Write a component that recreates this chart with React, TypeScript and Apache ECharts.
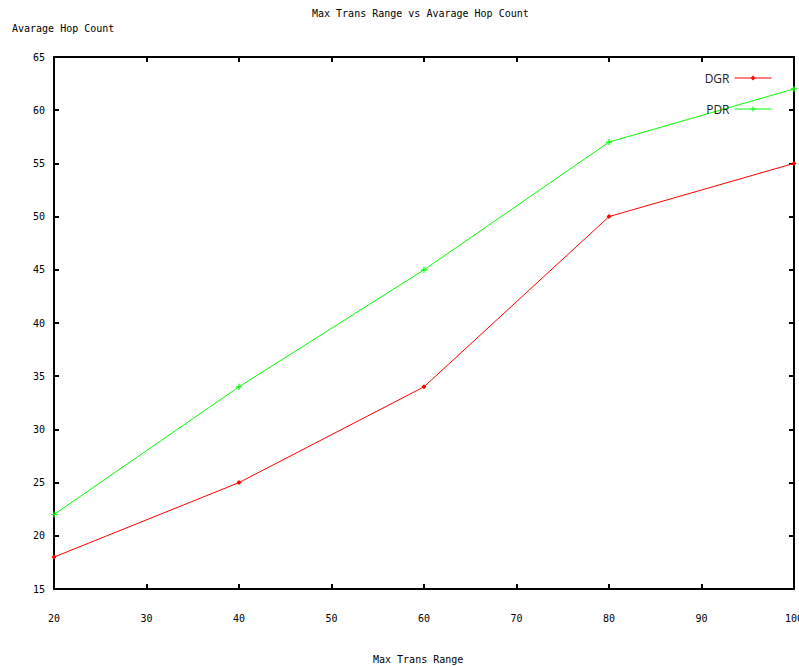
import React, { useEffect, useRef } from "react";
import * as echarts from "echarts";

const xValues = [20, 40, 60, 80, 100];
const dgr = [18, 25, 34, 50, 55];
const pdr = [22, 34, 45, 57, 62];
const seriesNames = ["DGR", "PDR"];
const chartTitle = "Max Trans Range vs Avarage Hop Count";
const yName = "Avarage Hop Count";
const xName = "Max Trans Range";

const FONT = "DejaVu Sans Mono";
const plusPath = "path://M0,2L5,2L5,3L0,3Z M2,0L3,0L3,5L2,5Z";

export default function App() {
  const ref = useRef<HTMLDivElement>(null);
  useEffect(() => {
    document.body.style.margin = "0";
    const chart = echarts.init(ref.current!, null, { renderer: "svg" });
    const baseAxis = {
      type: "value" as const,
      axisLine: { show: true, lineStyle: { color: "#000", width: 2 } },
      axisTick: { show: true, inside: true, length: 5, lineStyle: { color: "#000", width: 2 } },
      splitLine: { show: false },
    };
    chart.setOption({
      animation: false,
      backgroundColor: "#fff",
      title: [
        { text: chartTitle, left: 307, top: 3, textStyle: { fontFamily: FONT, fontSize: 10, fontWeight: "normal", color: "#000" } },
        { text: yName, left: 7, top: 18, textStyle: { fontFamily: FONT, fontSize: 10, fontWeight: "normal", color: "#000" } },
        { text: xName, left: 368, top: 649, textStyle: { fontFamily: FONT, fontSize: 10, fontWeight: "normal", color: "#000" } },
      ],
      legend: {
        orient: "vertical",
        right: 22,
        top: 67,
        align: "right",
        itemWidth: 37,
        itemHeight: 6,
        itemGap: 19,
        data: seriesNames,
        lineStyle: { width: 1 },
        textStyle: { fontFamily: "Open Sans", fontSize: 12, color: "#222" },
      },
      grid: { left: 54, right: 5, top: 57, bottom: 78, containLabel: false, outerBoundsMode: "none" },
      xAxis: [
        {
          ...baseAxis,
          position: "bottom",
          min: 20,
          max: 100,
          interval: 10,
          axisLabel: { margin: 24, color: "#000", fontFamily: FONT, fontSize: 10 },
        },
        {
          ...baseAxis,
          position: "top",
          min: 20,
          max: 100,
          interval: 10,
          axisLabel: { show: false },
        },
      ],
      yAxis: [
        {
          ...baseAxis,
          position: "left",
          min: 15,
          max: 65,
          interval: 5,
          axisLabel: { margin: 9, color: "#000", fontFamily: FONT, fontSize: 10 },
        },
        {
          ...baseAxis,
          position: "right",
          min: 15,
          max: 65,
          interval: 5,
          axisLabel: { show: false },
        },
      ],
      series: [
        {
          name: seriesNames[0],
          type: "line",
          data: xValues.map((x, i) => [x, dgr[i]]),
          symbol: "diamond",
          symbolSize: 5,
          showAllSymbol: true,
          lineStyle: { color: "#ff0000", width: 1 },
          itemStyle: { color: "#ff0000" },
          emphasis: { disabled: true },
        },
        {
          name: seriesNames[1],
          type: "line",
          data: xValues.map((x, i) => [x, pdr[i]]),
          symbol: plusPath,
          symbolSize: 6,
          showAllSymbol: true,
          lineStyle: { color: "#00ff00", width: 1 },
          itemStyle: { color: "#00ff00" },
          emphasis: { disabled: true },
        },
      ],
    });
    return () => chart.dispose();
  }, []);
  return <div ref={ref} style={{ width: 799, height: 667 }} />;
}
